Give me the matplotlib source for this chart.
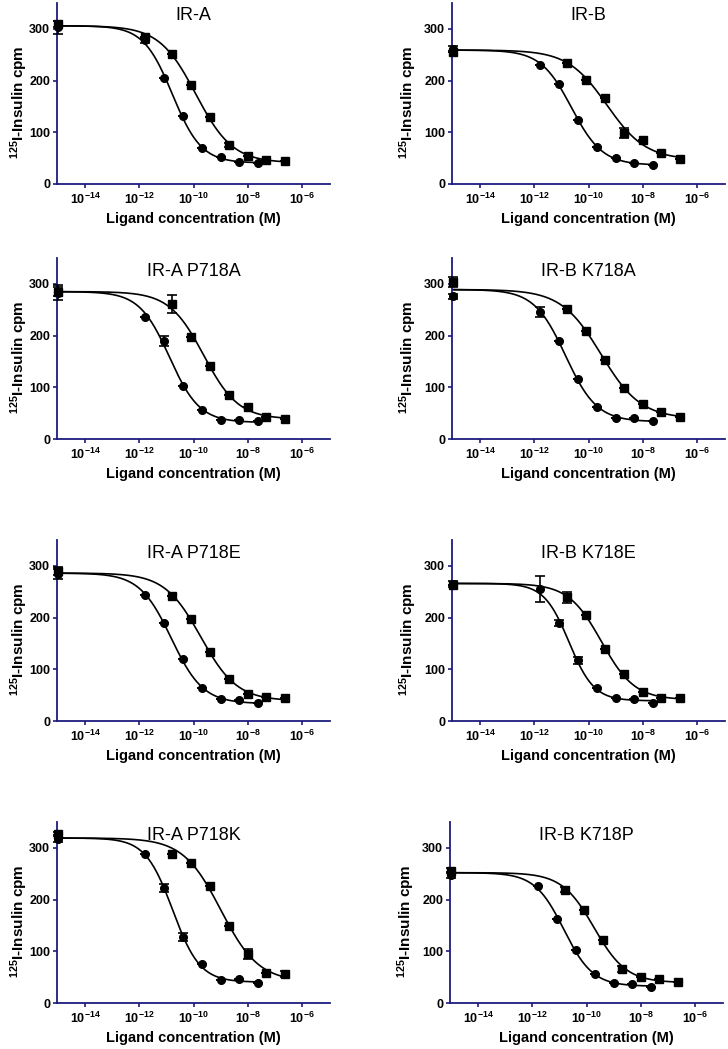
import numpy as np
import matplotlib
matplotlib.use("Agg")
from matplotlib import pyplot as plt
from matplotlib.ticker import FixedLocator, FixedFormatter

plt.rcParams['font.family'] = ['Liberation Sans', 'DejaVu Sans']
plt.rcParams['mathtext.fontset'] = 'custom'
plt.rcParams['mathtext.rm'] = 'Liberation Sans:bold'
plt.rcParams['mathtext.bf'] = 'Liberation Sans:bold'
plt.rcParams['mathtext.it'] = 'Liberation Sans:bold'

titles = ["IR-A", "IR-B", "IR-A P718A", "IR-B K718A",
          "IR-A P718E", "IR-B K718E", "IR-A P718K", "IR-B K718P"]

# ligand concentration (M), first point = no ligand, drawn at the axis
circle_conc = [1e-15, 1.6e-12, 8e-12, 4e-11, 2e-10, 1e-9, 5e-9, 2.5e-8]
square_conc = [1e-15, 1.6e-12, 1.6e-11, 8e-11, 4e-10, 2e-9, 1e-8, 5e-8, 2.5e-7]

nan = np.nan
circle_cpm = [
    [303, 278, 205, 132, 70, 52, 42, 41],
    [262, 231, 193, 124, 72, 51, 41, 36],
    [283, 236, 189, 103, 57, 37, 37, 35],
    [276, 245, 189, 116, 62, 40, 41, 34],
    [284, 243, 190, 119, 63, 42, 40, 35],
    [265, 255, 190, 117, 63, 44, 43, 35],
    [318, 289, 222, 128, 75, 44, 46, 39],
    [247, 227, 162, 102, 57, 39, 36, 30],
]
circle_err = [
    [12, 5, 0, 0, 0, 0, 0, 0],
    [5, 0, 0, 0, 0, 0, 0, 0],
    [15, 0, 10, 0, 0, 0, 0, 0],
    [5, 10, 0, 0, 0, 0, 0, 0],
    [10, 0, 0, 0, 0, 0, 0, 0],
    [5, 25, 6, 7, 0, 0, 0, 0],
    [6, 0, 8, 8, 0, 0, 0, 0],
    [6, 0, 0, 0, 0, 0, 0, 0],
]
square_cpm = [
    [310, 285, 251, 191, 129, 76, 54, 47, 45],
    [256, nan, 234, 202, 167, 98, 85, 59, 49],
    [285, nan, 261, 198, 142, 86, 61, 43, 38],
    [303, nan, 252, 209, 152, 99, 68, 52, 42],
    [290, nan, 241, 197, 134, 81, 53, 46, 44],
    [263, nan, 239, 205, 140, 90, 57, 45, 45],
    [326, nan, 289, 271, 227, 148, 95, 58, 56],
    [256, nan, 219, 179, 121, 66, 51, 46, 40],
]
square_err = [
    [6, 0, 0, 0, 0, 4, 0, 0, 0],
    [0, 0, 0, 0, 0, 10, 0, 0, 0],
    [8, 0, 18, 0, 0, 0, 0, 0, 0],
    [10, 0, 0, 0, 0, 0, 0, 0, 0],
    [8, 0, 0, 0, 0, 0, 0, 0, 0],
    [0, 0, 10, 0, 0, 0, 0, 0, 0],
    [4, 0, 0, 0, 0, 0, 10, 0, 6],
    [5, 0, 5, 0, 0, 6, 0, 0, 0],
]

xticks = [1e-14, 1e-12, 1e-10, 1e-8, 1e-6]
xticklabels = [r'$10^{-14}$', r'$10^{-12}$', r'$10^{-10}$', r'$10^{-8}$', r'$10^{-6}$']
yticks = [0, 100, 200, 300]

navy = '#1c1c7e'

CS = np.arange(-12.5, -7.0, 0.01)
HS = np.arange(0.4, 1.6, 0.01)
CG, HG = np.meshgrid(CS, HS)


def best_given_top(lx, y, top):
    f = 1.0 / (1.0 + 10 ** ((lx[:, None, None] - CG) * HG))
    g = 1 - f
    b = (g * (y[:, None, None] - top * f)).sum(0) / (g * g).sum(0)
    res = ((y[:, None, None] - b * g - top * f) ** 2).sum(0)
    i = np.unravel_index(np.argmin(res), res.shape)
    return res[i], (b[i], top, CG[i], HG[i])


def fit_pair(conc1, y1, conc2, y2):
    # two competition curves with a shared top plateau
    series = []
    for conc, y in [(conc1, y1), (conc2, y2)]:
        lx = np.log10(np.asarray(conc, float))
        y = np.asarray(y, float)
        ok = ~np.isnan(y)
        series.append((lx[ok], y[ok]))
    best = None
    for top in np.arange(200, 340, 1.0):
        r1, p1 = best_given_top(*series[0], top)
        r2, p2 = best_given_top(*series[1], top)
        if best is None or r1 + r2 < best[0]:
            best = (r1 + r2, p1, p2)
    return best[1], best[2]


def curve(params, x):
    b, t, c, h = params
    return b + (t - b) / (1 + 10 ** ((np.log10(x) - c) * h))


fig = plt.figure(figsize=(7.28, 10.49), dpi=100)
W, H_ = 728.0, 1049.0
row_top = [3, 258, 540, 822]
col_left = [57, 452]
aw, ah = 273, 181

for k, title in enumerate(titles):
    r, c = k // 2, k % 2
    left = col_left[c] - (2 if (c == 1 and r == 3) else 0)
    ax = fig.add_axes([left / W, 1 - (row_top[r] + ah) / H_, aw / W, ah / H_])

    pc, ps = fit_pair(circle_conc, circle_cpm[k], square_conc, square_cpm[k])
    for conc, vals, errs, mk, p in [(circle_conc, circle_cpm[k], circle_err[k], 'o', pc),
                                    (square_conc, square_cpm[k], square_err[k], 's', ps)]:
        xs = np.logspace(np.log10(conc[0]), np.log10(conc[-1]), 300)
        ax.plot(xs, curve(p, xs), color='black', lw=1.2, zorder=2)
        ax.errorbar(conc, np.array(vals, float), yerr=np.array(errs, float), fmt=mk,
                    ms=5.5, color='black', ecolor='black', elinewidth=1.2,
                    capsize=3.5, capthick=1.2, zorder=3, clip_on=False)

    ax.set_xscale('log')
    ax.set_xlim(10 ** -15.05, 10 ** -4.95)
    ax.set_ylim(0, 350)
    ax.xaxis.set_major_locator(FixedLocator(xticks))
    ax.xaxis.set_major_formatter(FixedFormatter(xticklabels))
    ax.xaxis.set_minor_locator(FixedLocator([]))
    ax.set_yticks(yticks)
    ax.set_yticklabels([str(t) for t in yticks])
    for lab in ax.get_yticklabels():
        lab.set_fontweight('bold')
    ax.tick_params(axis='both', colors=navy, labelcolor='black', labelsize=9,
                   length=3, width=1.2, direction='out')
    ax.tick_params(axis='x', pad=2.5)
    ax.tick_params(axis='y', pad=2)
    for s in ['top', 'right']:
        ax.spines[s].set_visible(False)
    for s in ['left', 'bottom']:
        ax.spines[s].set_color(navy)
        ax.spines[s].set_linewidth(1.3)

    ax.text(0.5, 1 - 13 / ah, title, transform=ax.transAxes, ha='center', va='center',
            fontsize=13)
    ax.text(0.5, -35 / ah, 'Ligand concentration (M)', transform=ax.transAxes,
            ha='center', va='center', fontsize=10.5, fontweight='bold')
    ylx = -38 / aw if c == 0 else -44 / aw
    ax.text(ylx, 0.45, r'$^{125}$I-Insulin cpm', transform=ax.transAxes, rotation=90,
            ha='center', va='center', fontsize=11, fontweight='bold')

fig.savefig('out.png', dpi=100)
